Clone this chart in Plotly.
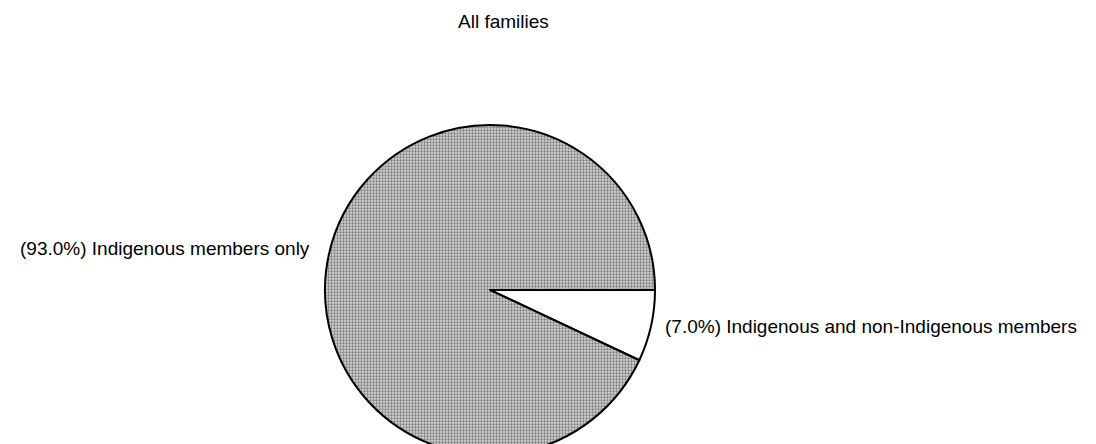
import plotly.graph_objects as go

labels = ["Indigenous and non-Indigenous members", "Indigenous members only"]
values = [7.0, 93.0]
colors = ["#ffffff", "#d2d2d2"]
subtitle = "All families"

W, H = 1096, 460

fig = go.Figure()
fig.add_trace(go.Pie(
    labels=labels,
    values=values,
    sort=False,
    direction="clockwise",
    rotation=90,
    textinfo="none",
    hoverinfo="label+percent",
    marker=dict(
        colors=colors,
        line=dict(color="#000000", width=2),
        pattern=dict(shape=["", "."], fgcolor="#2a2a2a", bgcolor=colors,
                     size=3, solidity=0.45, fillmode="overlay"),
    ),
    domain=dict(x=[325 / W, 655 / W], y=[(H - 455) / H, (H - 125) / H]),
    showlegend=False,
))

font = dict(family="Liberation Sans, Arial, sans-serif", size=19, color="#000000")
total = sum(values)
txt = [f"({v / total * 100:.1f}%) {l}" for l, v in zip(labels, values)]

# right label (small slice), left label (big slice)
fig.add_annotation(text=txt[0], x=663 / W, y=(H - 326) / H, xref="paper", yref="paper",
                   xanchor="left", yanchor="middle", showarrow=False, font=font)
fig.add_annotation(text=txt[1], x=312 / W, y=(H - 248) / H, xref="paper", yref="paper",
                   xanchor="right", yanchor="middle", showarrow=False, font=font)
fig.add_annotation(text=subtitle, x=503 / W, y=(H - 22) / H, xref="paper", yref="paper",
                   xanchor="center", yanchor="middle", showarrow=False, font=font)

fig.update_layout(
    width=W, height=H,
    margin=dict(l=0, r=0, t=0, b=0),
    paper_bgcolor="#ffffff",
    plot_bgcolor="#ffffff",
)

fig.write_html("out.html", config={"displayModeBar": False},
               post_script="document.body.style.margin='0';document.body.style.overflow='hidden';")
